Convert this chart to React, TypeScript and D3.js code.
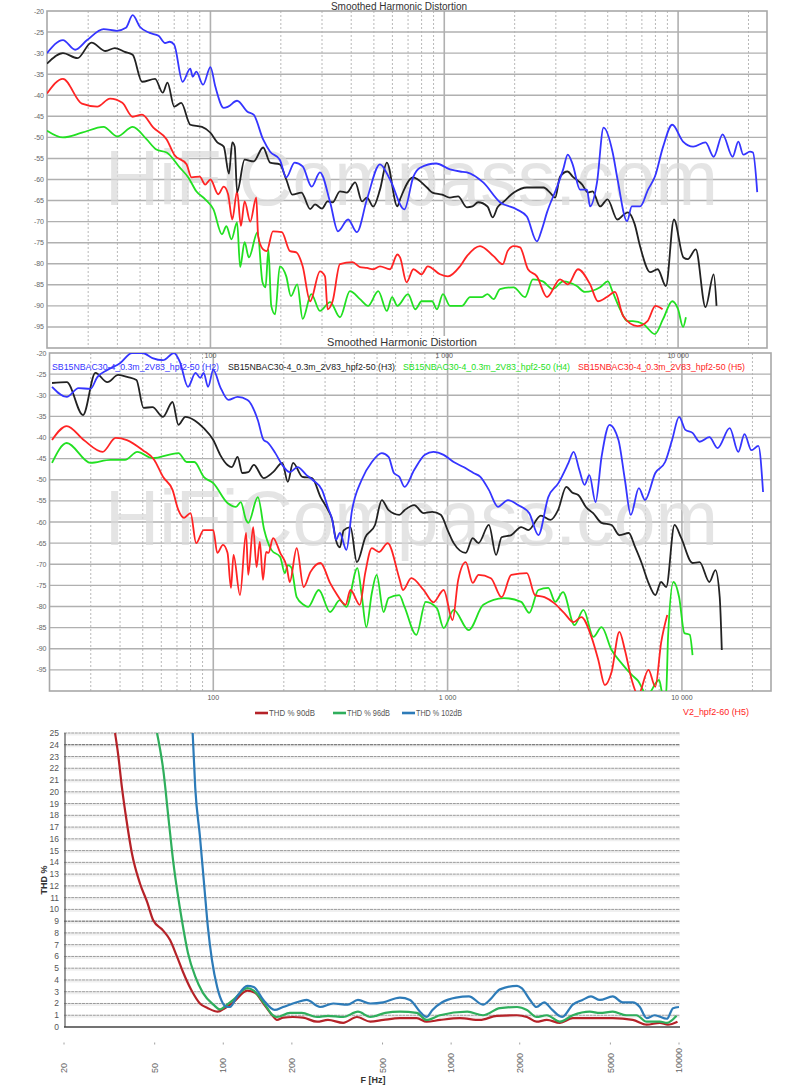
import React from 'react';
import * as d3 from 'd3';

// ---------------- DATA ----------------
// Top panel (Smoothed Harmonic Distortion #1)
const topH2Freq = [20,23.4,26.4,29.7,34.9,39.8,43.5,46.5,50,55,60,64,67,70,76,82,84,87,93,100,105,114,119,130,144,153,168,180,198,211,229,248,271,294,325,351,388,423,467,531,586,675,738,788,923,1058,1168,1250,1467,1732,2045,2255,2490,2616,2750,3040,3225,3375,3540,3809,4075,4204,4500,4800,5250,5510,6050,6340,6880,7440,7960,8630,9440,10500,11600,13100,14200,15500,17100,18100,19000,20300,20900,21800];
const topH2Db = [-30,-26.9,-29.2,-26.9,-24.3,-24.7,-24,-21,-23.8,-25.2,-25.9,-27.6,-27.3,-28,-36.8,-33.7,-35.6,-34.4,-37.5,-33.3,-38,-43,-42.7,-41.3,-43.9,-44.6,-50.5,-53.4,-55.3,-59.5,-56,-56.9,-61.7,-58.3,-65.4,-72.3,-69.5,-72.5,-64.7,-56.4,-60,-67.1,-59.3,-57.2,-56.2,-57.6,-58.1,-58.3,-60.7,-65.4,-67.1,-68.8,-74.7,-71.8,-67.8,-61.7,-57.6,-54.1,-56.4,-62.4,-62.4,-66.4,-60.7,-47.7,-53.6,-60,-69.9,-66.4,-66.4,-62.4,-59.3,-52.2,-47,-51,-52.2,-51.2,-54.6,-49.3,-54.6,-51,-54.1,-53.4,-53.6,-63];

const topH3Freq = [20,23.4,27,31,35.6,39,43,46.5,51,58,62.5,65.5,70,75,82,92,100,107,114,120,124,127,130,140,153,168,180,198,211,224,245,267,280,300,317,333,358,383,416,445,467,497,531,568,630,647,735,843,890,980,1058,1145,1250,1320,1395,1530,1610,1690,1800,1985,2255,2660,2834,2980,3128,3370,3540,3890,4120,4310,4639,4990,5500,5860,6100,6520,6880,7594,8180,8870,9600,10540,11000,11900,13100,14200,14600];
const topH3Db = [-32.5,-30,-31.2,-27.5,-29.5,-28.8,-29.7,-30.4,-36.8,-36.1,-39.4,-37,-42.7,-41.8,-47,-47.5,-48.9,-51.2,-52.2,-58.6,-51.2,-52.2,-63,-55.3,-55.7,-52.4,-56,-56.4,-60,-63.6,-63.1,-67,-65.9,-66.9,-65.2,-65.4,-62.8,-63.1,-60.7,-65.2,-64.3,-66.4,-62.4,-56,-66.4,-64.7,-59.5,-61.9,-63.1,-63.6,-64.3,-64,-66.6,-66.4,-65.4,-66.4,-69,-66.6,-65.2,-63.1,-61.9,-61.9,-63.1,-64.3,-59.3,-58.1,-59.3,-61.2,-63.1,-62.8,-66.4,-64.7,-69.5,-68.3,-67.8,-70.6,-75.9,-82,-81.3,-85.3,-69.5,-78.5,-78.9,-76.6,-90.3,-82.5,-90];

const topH4Freq = [20,23.4,28.2,34.9,40,46.5,53.4,58.7,65,74,80.4,87,95,103,112,117,123,130,134,140,146,159,167,172,177,182,189,198,211,221,235,248,270,294,325,358,395,436,472,522,568,598,630,700,752,800,887,930,987,1058,1190,1289,1452,1530,1625,1732,1980,2215,2395,2640,2910,3225,3690,3990,4640,5010,5250,5650,6050,6400,7100,7960,8630,9440,10000,10500,10800];
const topH4Db = [-48.4,-50,-48.9,-47.5,-49.8,-47.5,-50.5,-52.9,-53.6,-57.2,-59.5,-62.8,-64.7,-67.1,-73,-71.1,-74.2,-70.2,-80.8,-74.9,-78.5,-72.5,-84.4,-85.6,-76.6,-90,-92,-80.6,-83,-87.7,-84.9,-93.1,-87.2,-91.2,-89.1,-92.7,-86.5,-88.4,-90,-86.5,-91.2,-87.9,-90,-87.2,-90.8,-88.9,-88.9,-90.8,-87.2,-90,-90,-87.9,-87.9,-87.2,-88.4,-86,-85.6,-87.9,-83.7,-84.2,-86,-84.2,-85.3,-86.7,-85.6,-84.2,-86.7,-90.8,-93.6,-93.6,-94.3,-96.7,-93.1,-88.9,-90.8,-95,-92.7];

const topH5Freq = [20,23.4,28.2,32.8,37.2,42,46.5,51,57,65,70,79,83,90,95,100,108,114,119,124,130,135,140,148,157,160,168,174,185,202,219,233,248,267,294,309,317,333,358,405,436,467,497,531,586,630,647,690,738,800,850,959,1037,1168,1250,1422,1625,1780,1865,1980,2109,2280,2490,2750,3128,3380,3730,4204,4540,4960,5370,5820,6700,7400,8000,8580];
const topH5Db = [-39.6,-36.1,-42,-42.7,-40.8,-41.8,-45.1,-44.6,-47.7,-50.5,-54.1,-56.4,-59.5,-59.3,-61.2,-60,-63.5,-61.7,-63.5,-69.5,-62.8,-71,-65.2,-70,-64.3,-73.5,-76.6,-77,-72.3,-72.5,-77,-77.3,-80.6,-88.9,-81.8,-83,-90.8,-88.9,-80.1,-79.6,-80.8,-81,-81.3,-80.6,-81.3,-77.8,-78.5,-84.4,-81.3,-82.5,-80.6,-82.5,-83,-80.6,-78.2,-75.8,-78.2,-80.1,-77,-75.8,-76.1,-81.3,-83,-87.9,-83.7,-84.9,-81.3,-84.9,-88.9,-87.9,-86.7,-92.4,-94.8,-93.6,-90,-90.8];

// Middle panel (Smoothed Harmonic Distortion #2)
const midH2Freq = [20.5,23.7,26.6,29.9,32,35.3,40,45,50,55,61,68,72,78,84,88,91,95,100,107,116,127,140,155,164,170,184,197,212,229,250,265,291,309,322,334,347,370,391,430,475,524,560,590,622,655,720,800,870,962,1062,1170,1290,1380,1500,1640,1810,2000,2230,2440,2690,2970,3280,3450,3650,3840,4030,4280,4540,4910,5360,5710,6050,6550,6960,7700,8480,9080,9730,10350,11100,11900,13100,14200,16000,17400,18500,19800,21200,22200];
const midH2Db = [-28,-30.4,-28.3,-28.5,-25.7,-24,-22.4,-20,-20,-21.2,-21.7,-20,-22.1,-28,-24.7,-25.9,-24.7,-28,-24,-28,-31.1,-30.4,-31.1,-35.9,-40.6,-41.1,-43.7,-46.5,-48.2,-47,-48.9,-50,-52.4,-56.7,-59.5,-64.2,-62.6,-66.6,-57.2,-50,-45.8,-43.7,-44.6,-48.4,-49.3,-51.7,-47.7,-44.1,-43.4,-44.1,-45.8,-47,-48.4,-49.3,-52.4,-56.4,-54.8,-56,-57.9,-63.1,-54.1,-50.8,-46,-43.4,-47.7,-51.2,-48.9,-55.3,-44.6,-37,-40.6,-50,-58.3,-52,-54.8,-48.4,-45.8,-40.6,-35.1,-38.2,-38.9,-41,-39.9,-42.5,-37.8,-43.4,-39.2,-43,-42,-52.9];

const midH3Freq = [20.5,23.7,27.8,31.4,35.3,39.3,43.2,47,50.4,55,61,67,71,76,83,91,100,107,115,120,127,133,141,149,164,180,197,208,219,240,264,287,309,322,334,347,360,385,410,446,490,524,560,622,655,720,790,860,935,1000,1062,1195,1280,1355,1500,1610,1700,1870,2060,2210,2500,2750,2960,3210,3400,3610,3900,4180,4540,5010,5410,5930,6310,6730,7200,7700,8150,8570,9300,9900,11100,11900,13100,13900,14500,14800];
const midH3Db = [-27.1,-26.9,-34.7,-24.7,-26.9,-25.2,-25.7,-26.4,-33,-32.8,-35.1,-31.6,-37,-35.1,-35.9,-37.8,-40.6,-44.1,-46.5,-47,-44.6,-48.4,-48.2,-46.5,-49.6,-48.2,-46,-50.5,-46,-49.3,-49.6,-54.1,-57.2,-59.5,-64.3,-66,-62,-61.2,-69.5,-63.6,-60.7,-54.8,-57.2,-58.3,-57.2,-56,-57.9,-57.6,-58.3,-61.9,-65,-67.3,-63.8,-65,-60.7,-67.8,-63.6,-63.1,-61.2,-61.9,-58.5,-59.5,-57.2,-51.7,-53,-53.6,-56.5,-57.9,-60.2,-60.7,-63.1,-62.6,-65.9,-69.7,-74.4,-77.3,-74.2,-75.4,-60.7,-63.6,-69.7,-69.5,-74.2,-71.4,-77.8,-90.3];

const midH4Freq = [20.5,23.7,29.9,36.4,42,47.4,55,71,77,83,91,100,115,125,131,138,141,155,165,177,193,202,208,215,227,243,254,282,315,347,370,412,430,450,475,498,533,560,622,655,735,807,900,962,1062,1230,1420,1740,2060,2230,2440,2690,2880,3110,3480,3800,4190,4540,5010,5520,6110,6500,7100,7990,8300,8570,8730,9200,9730,10250,10800,11100];
const midH4Db = [-46,-41.3,-46,-45.3,-45.3,-43.4,-44.9,-43.7,-45.8,-45.8,-49.3,-50.8,-55.5,-56.4,-55.3,-59.5,-60.2,-54.1,-61.9,-66.6,-68.3,-72.1,-70.2,-70.7,-77.8,-79.6,-80.1,-76.1,-81.3,-78.5,-80.1,-70.9,-77.3,-84.9,-76.8,-72.5,-81.3,-78,-77.3,-80.1,-86.7,-78.9,-80.4,-85.1,-80.8,-85.6,-79.6,-78,-78.9,-81.5,-76.1,-75.6,-78.9,-76.6,-84.4,-80.8,-87.2,-84.9,-90.3,-93.4,-96.2,-97.6,-101,-97.4,-101,-100,-87,-74.2,-77.8,-86.3,-86.7,-91.5];

const midH5Freq = [20.5,23.7,28,33.7,38.3,42.8,50,56,61,67,71,75,80,84.5,91,100,104,110,115,119,122,130,138,141,148,153,158,163,168,172,180,193,206,212,227,243,260,287,315,334,367,385,422,445,475,510,555,622,645,700,790,870,962,1050,1110,1195,1280,1355,1530,1700,1870,2180,2360,2590,2850,3140,3450,3720,4110,4400,4690,5010,5410,5710,6110,6500,7200,7700,8150,8660];
const midH5Db = [-40.6,-37.3,-40.6,-43.4,-40.1,-40.6,-43,-45.3,-49.3,-52.4,-57.2,-59,-57.9,-65,-61.9,-61.9,-67.3,-65.4,-67.3,-75.6,-67.8,-77.3,-62.6,-72.5,-61.2,-70.7,-64.7,-73.7,-67.1,-67.3,-63.8,-67.3,-70.7,-74.2,-66.2,-75.4,-71.8,-69.7,-74.4,-76.8,-79.6,-76.1,-79.6,-72.1,-66.2,-67.1,-65,-73.3,-76.1,-73.3,-76.1,-79,-76.1,-83.2,-73.7,-69.5,-74.4,-72.5,-73.3,-77.8,-72.5,-72.1,-77.3,-77.8,-79.2,-81.5,-83.7,-82.5,-87.2,-92.7,-98.6,-95.5,-86,-90.3,-97.4,-101,-95,-99,-88.6,-82];

// Bottom panel (THD %)
const thd90Freq = [33.5,34.5,35.9,37.6,39.7,43.1,46.4,49.2,54.5,58.4,62.6,66.5,72.6,79,85.6,94.6,101.5,110.6,127.5,138,150,164,172,183,202,224,258,288,336,386,442,504,596,707,780,893,1093,1338,1587,1946,2150,2370,2630,3000,3420,4190,5120,6270,7210,8240,8940,9850];
const thd90Val = [25,23.3,20.4,17.6,14.8,12.2,10.6,9.1,8.2,7.4,6.0,4.7,3.1,2.0,1.6,1.3,1.6,2.1,3.1,2.9,2.0,1.0,0.6,0.8,0.85,0.8,0.45,0.6,0.35,0.85,0.45,0.6,0.75,0.75,0.45,0.6,0.75,0.6,0.95,1.0,0.85,0.45,0.6,0.35,0.75,0.75,0.75,0.6,0.2,0.35,0.2,0.45];
const thd96Freq = [51.2,54.5,57.6,60.2,63,65.8,70,75.3,81.4,90.5,96.7,104,110.6,127.5,136,150,165,172,196,221,258,288,336,390,442,514,596,707,780,893,1178,1380,1637,1946,2150,2370,2630,3000,3420,4060,4495,5120,5880,6500,7210,8240,8850,9750];
const thd96Val = [25,21.9,17.6,14.2,11.4,9.1,6.3,4.3,2.9,1.9,1.5,1.9,2.3,3.3,3.1,2.1,1.0,0.85,1.2,1.2,0.85,0.95,0.85,1.3,0.85,1.2,1.3,1.2,0.6,1.0,1.3,1.0,1.6,1.7,1.45,0.85,1.0,0.45,1.0,1.3,1.2,1.3,1.0,1.0,0.45,0.45,0.35,0.95];
const thd102Freq = [73.4,75.3,79,82.6,85.6,89.2,94,99.7,104,107,115,127.5,136,150,168,183,210,232,266,304,351,390,442,504,596,660,730,780,828,913,1050,1196,1380,1478,1637,1946,2040,2220,2370,2560,2780,3070,3420,3770,4110,4495,5120,5660,6270,6730,7210,7820,8850,9420,10000];
const thd102Val = [25,20.4,16.2,11.9,8.5,5.7,3.4,2.0,1.7,1.7,2.6,3.5,3.4,2.3,1.45,1.7,2.1,2.3,1.7,2.0,1.9,2.3,2.0,2.1,2.5,2.3,1.3,0.85,1.45,2.1,2.5,2.6,1.9,2.3,3.2,3.5,3.3,2.3,1.7,2.1,1.45,0.85,1.9,2.3,2.6,2.3,2.6,2.1,2.1,1.7,0.75,1.0,0.7,1.6,1.7];

// Ticks & labels
const dbTicks = [-20,-25,-30,-35,-40,-45,-50,-55,-60,-65,-70,-75,-80,-85,-90,-95];
const dbGrid = [-25,-30,-35,-40,-45,-50,-55,-60,-65,-70,-75,-80,-85,-90,-95];
const minorFreqs = [30,40,50,60,70,80,90,200,300,400,500,600,700,800,900,2000,3000,4000,5000,6000,7000,8000,9000,20000];
const majorFreqs = [100,1000,10000];
const majorFreqLabels = ['100','1 000','10 000'];
const legendNames = ['SB15NBAC30-4_0.3m_2V83_hpf2-50 (H2)','SB15NBAC30-4_0.3m_2V83_hpf2-50 (H3)','SB15NBAC30-4_0.3m_2V83_hpf2-50 (H4)','SB15NBAC30-4_0.3m_2V83_hpf2-50 (H5)'];
const thdTicks = [0,1,2,3,4,5,6,7,8,9,10,11,12,13,14,15,16,17,18,19,20,21,22,23,24,25];
const thdFreqTicks = [20,50,100,200,500,1000,2000,5000,10000];
const thdLegend = ['THD % 90dB','THD % 96dB','THD % 102dB'];

const FONT = '"Liberation Sans", Arial, Helvetica, sans-serif';
const C_BLUE = '#3535ff';
const C_BLACK = '#222222';
const C_GREEN = '#22e022';
const C_RED = '#ff2424';

type Pt = [number, number];
const zipPts = (f: number[], v: number[]): Pt[] => d3.range(Math.min(f.length, v.length)).map(i => [f[i], v[i]] as Pt);

interface PanelProps {
  id: string; x0: number; x1: number; y0: number; y1: number;
  series: { pts: Pt[]; color: string }[];
  wmY: number; showLabelsBottom: boolean;
}

function HarmonicPanel({ id, x0, x1, y0, y1, series, wmY, showLabelsBottom }: PanelProps) {
  const x = d3.scaleLog().domain([20, 24000]).range([x0, x1]);
  const y = d3.scaleLinear().domain([-20, -100]).range([y0, y1]);
  const line = d3.line<Pt>().x(d => x(d[0])).y(d => y(d[1])).curve(d3.curveMonotoneX);
  return (
    <g>
      <clipPath id={id}><rect x={x0} y={y0} width={x1 - x0} height={y1 - y0} /></clipPath>
      <rect x={x0} y={y0} width={x1 - x0} height={y1 - y0} fill="#ffffff" />
      {minorFreqs.map(f => (
        <line key={'m' + f} x1={x(f)} x2={x(f)} y1={y0} y2={y1} stroke="#b8b8b8" strokeWidth={1} strokeDasharray="2,2" />
      ))}
      {dbGrid.map(v => (
        <line key={'h' + v} x1={x0} x2={x1} y1={y(v)} y2={y(v)} stroke="#b0b0b0" strokeWidth={1.4} />
      ))}
      {majorFreqs.map(f => (
        <line key={'M' + f} x1={x(f)} x2={x(f)} y1={y0} y2={y1} stroke="#b0b0b0" strokeWidth={1.6} />
      ))}
      <text x={105} y={wmY} fontFamily={FONT} fontSize={78} fill="#dadada" opacity={0.7} textLength={613} lengthAdjust="spacingAndGlyphs">HiFiCompass.com</text>
      <rect x={x0} y={y0} width={x1 - x0} height={y1 - y0} fill="none" stroke="#a8a8a8" strokeWidth={1.6} />
      {dbTicks.map(v => (
        <text key={'t' + v} x={x0 - 3} y={y(v) + 2.5} fontFamily={FONT} fontSize={7} fill="#666" textAnchor="end">{v}</text>
      ))}
      <g clipPath={`url(#${id})`}>
        {series.map((s, i) => (
          <path key={i} d={line(s.pts) || ''} fill="none" stroke={s.color} strokeWidth={1.8} strokeLinejoin="round" />
        ))}
      </g>
      {showLabelsBottom && majorFreqs.map((f, i) => (
        <text key={'xl' + f} x={x(f)} y={y1 + 9} fontFamily={FONT} fontSize={7} fill="#555" textAnchor="middle">{majorFreqLabels[i]}</text>
      ))}
    </g>
  );
}

function ThdPanel() {
  const x0 = 64, x1 = 680, y0 = 733, y1 = 1027;
  const x = d3.scaleLog().domain([20, 10000]).range([x0, 679]);
  const y = d3.scaleLinear().domain([0, 25]).range([y1, y0]);
  const line = d3.line<Pt>().x(d => x(d[0])).y(d => y(d[1])).curve(d3.curveMonotoneX);
  const series = [
    { pts: zipPts(thd90Freq, thd90Val), color: '#b52228' },
    { pts: zipPts(thd96Freq, thd96Val), color: '#2fae5c' },
    { pts: zipPts(thd102Freq, thd102Val), color: '#2d7bb8' },
  ];
  return (
    <g>
      <clipPath id="thdclip"><rect x={x0} y={y0 - 2} width={x1 - x0} height={y1 - y0 + 2} /></clipPath>
      {thdTicks.filter(t => t > 0).map(t => (
        <g key={'g' + t}>
          <line x1={x0} x2={x1} y1={y(t) + 1.5} y2={y(t) + 1.5} stroke="#f0f0f0" strokeWidth={2} />
          <line x1={x0} x2={x1} y1={y(t)} y2={y(t)} stroke={t === 24 || t === 9 ? '#555' : '#999'} strokeWidth={1} strokeDasharray="3,0.6" />
        </g>
      ))}
      <line x1={x0 + 1} x2={x0 + 1} y1={y0} y2={y1} stroke="#555" strokeWidth={1.2} />
      <line x1={x0} x2={x1} y1={y1} y2={y1} stroke="#444" strokeWidth={1.4} />
      {thdTicks.map(t => (
        <text key={'yl' + t} x={x0 - 5} y={y(t) + 3} fontFamily={FONT} fontSize={8.5} fill="#555" textAnchor="end">{t}</text>
      ))}
      <text transform={`translate(47,880) rotate(-90)`} fontFamily={FONT} fontSize={9} fontWeight="bold" fill="#333" textAnchor="middle">THD %</text>
      <g clipPath="url(#thdclip)">
        {series.map((s, i) => (
          <path key={i} d={line(s.pts) || ''} fill="none" stroke={s.color} strokeWidth={2.2} strokeLinejoin="round" />
        ))}
      </g>
      {thdFreqTicks.map(f => (
        <g key={'xt' + f}>
          <line x1={x(f)} x2={x(f)} y1={1042.5} y2={1044.5} stroke="#888" strokeWidth={0.8} />
          <text transform={`translate(${x(f) + 3.2},1073) rotate(-90)`} fontFamily={FONT} fontSize={9} fill="#666" textAnchor="start">{f}</text>
        </g>
      ))}
      <text x={373} y={1083} fontFamily={FONT} fontSize={9} fontWeight="bold" fill="#333" textAnchor="middle">F [Hz]</text>
      {thdLegend.map((name, i) => {
        const lx = [255, 333, 402][i];
        return (
          <g key={name}>
            <line x1={lx} x2={lx + 13} y1={713} y2={713} stroke={series[i].color} strokeWidth={2.6} />
            <text x={lx + 14} y={716} fontFamily={FONT} fontSize={8.5} fill="#555" textLength={[46, 43, 46][i]} lengthAdjust="spacingAndGlyphs">{name}</text>
          </g>
        );
      })}
    </g>
  );
}

export default function App() {
  const topSeries = [
    { pts: zipPts(topH4Freq, topH4Db), color: C_GREEN },
    { pts: zipPts(topH5Freq, topH5Db), color: C_RED },
    { pts: zipPts(topH3Freq, topH3Db), color: C_BLACK },
    { pts: zipPts(topH2Freq, topH2Db), color: C_BLUE },
  ];
  const midSeries = [
    { pts: zipPts(midH4Freq, midH4Db), color: C_GREEN },
    { pts: zipPts(midH5Freq, midH5Db), color: C_RED },
    { pts: zipPts(midH3Freq, midH3Db), color: C_BLACK },
    { pts: zipPts(midH2Freq, midH2Db), color: C_BLUE },
  ];
  const xTop = d3.scaleLog().domain([20, 24000]).range([47, 767]);
  const legendColors = [C_BLUE, C_BLACK, C_GREEN, C_RED];
  const legendX = [52, 228, 403, 578];
  return (
    <svg width={800} height={1090} style={{ position: 'absolute', left: 0, top: 0, background: '#fff' }}>
      <rect x={0} y={0} width={800} height={1090} fill="#fff" />
      <text x={399} y={9.5} fontFamily={FONT} fontSize={10} fill="#333" textAnchor="middle">Smoothed Harmonic Distortion</text>
      <HarmonicPanel id="clipTop" x0={47} x1={767} y0={11} y1={348} series={topSeries} wmY={205} showLabelsBottom={false} />
      <rect x={300} y={336} width={200} height={11} fill="#fff" />
      <text x={402} y={346} fontFamily={FONT} fontSize={11} fill="#333" textAnchor="middle">Smoothed Harmonic Distortion</text>
      <HarmonicPanel id="clipMid" x0={49.5} x1={771} y0={353} y1={691} series={midSeries} wmY={545} showLabelsBottom={true} />
      {majorFreqs.map((f, i) => (
        <text key={'tx' + f} x={xTop(f)} y={358} fontFamily={FONT} fontSize={7} fill="#555" textAnchor="middle">{majorFreqLabels[i]}</text>
      ))}
      {legendNames.map((n, i) => (
        <text key={'lg' + i} x={legendX[i]} y={370} fontFamily={FONT} fontSize={8.5} fill={legendColors[i]} textLength={167} lengthAdjust="spacingAndGlyphs">{n}</text>
      ))}
      <text x={683} y={715} fontFamily={FONT} fontSize={8.5} fill={C_RED} textLength={66} lengthAdjust="spacingAndGlyphs">V2_hpf2-60 (H5)</text>
      <ThdPanel />
    </svg>
  );
}
